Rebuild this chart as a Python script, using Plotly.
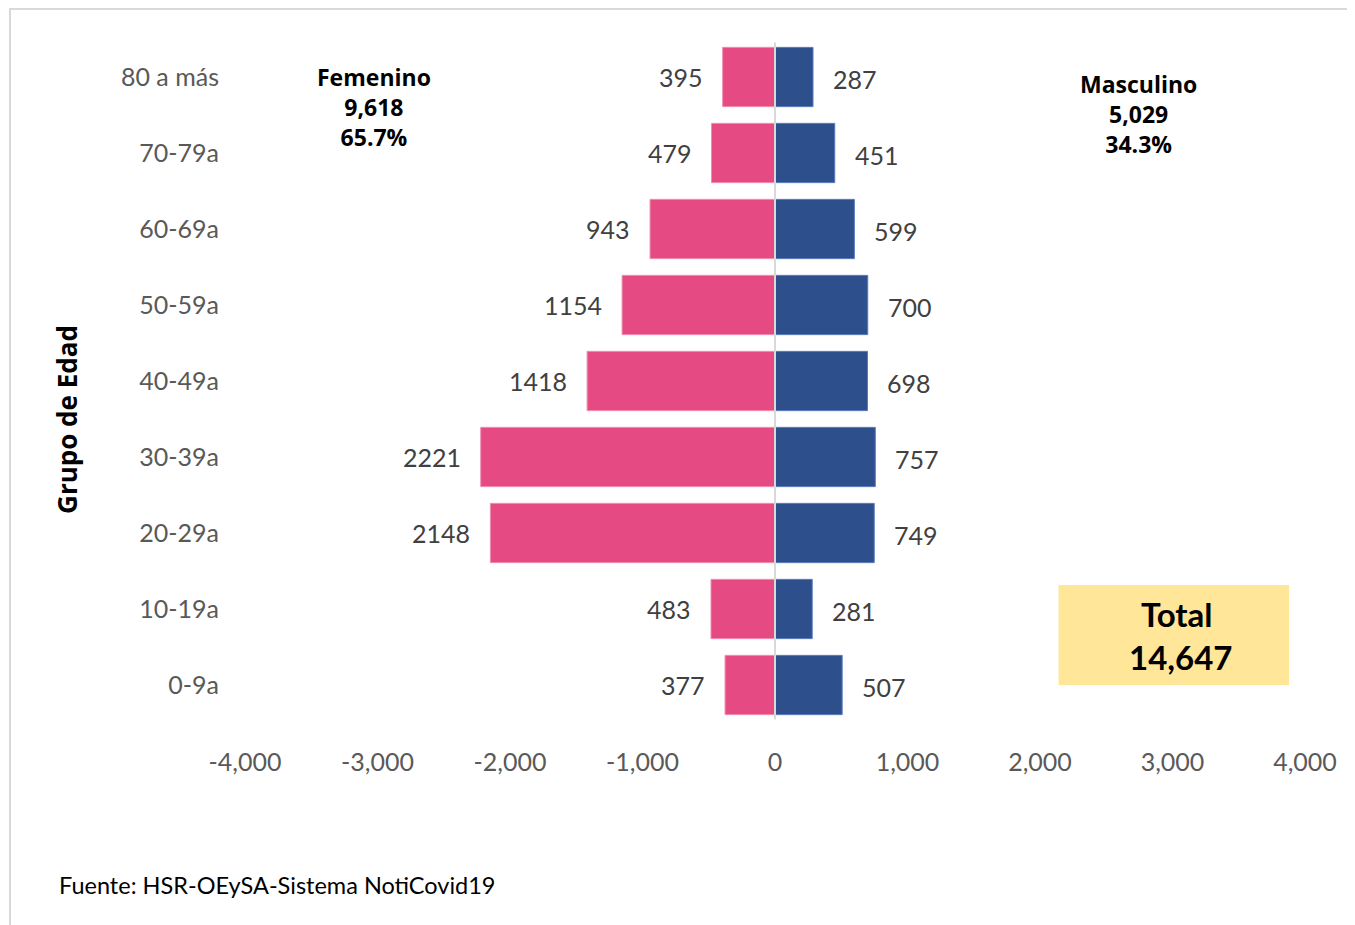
import plotly.graph_objects as go

age_groups = ["0-9a", "10-19a", "20-29a", "30-39a", "40-49a", "50-59a", "60-69a", "70-79a", "80 a más"]
femenino = [377, 483, 2148, 2221, 1418, 1154, 943, 479, 395]
masculino = [507, 281, 749, 757, 698, 700, 599, 451, 287]
x_tickvals = [-4000, -3000, -2000, -1000, 0, 1000, 2000, 3000, 4000]
x_ticktext = ["-4,000", "-3,000", "-2,000", "-1,000", "0", "1,000", "2,000", "3,000", "4,000"]
source_text = "Fuente: HSR-OEySA-Sistema NotiCovid19"

FONT = "Lato"
BOLD_FONT = "Open Sans"
PINK = "#E54A82"
BLUE = "#2D4F8C"

total_f = sum(femenino)
total_m = sum(masculino)
total = total_f + total_m

fig = go.Figure()
fig.add_trace(go.Bar(
    y=age_groups, x=[-v for v in femenino], orientation="h",
    marker=dict(color=PINK, line=dict(color="#F08CB0", width=1)),
    name="Femenino", hoverinfo="skip"))
fig.add_trace(go.Bar(
    y=age_groups, x=masculino, orientation="h",
    marker=dict(color=BLUE, line=dict(color="#5B7DBE", width=1)),
    name="Masculino", hoverinfo="skip"))

annotations = []
for cat, f, m in zip(age_groups, femenino, masculino):
    annotations.append(dict(x=-f, y=cat, xref="x", yref="y", text=str(f),
                            showarrow=False, xanchor="right", xshift=-18,
                            font=dict(family=FONT, size=25, color="#404040")))
    annotations.append(dict(x=m, y=cat, xref="x", yref="y", text=str(m),
                            showarrow=False, xanchor="left", xshift=18, yshift=-2,
                            font=dict(family=FONT, size=25, color="#404040")))

annotations.append(dict(
    x=-3030, y="80 a más", xref="x", yref="y", yshift=-30,
    text=f"<b>Femenino<br>{total_f:,}<br>{total_f/total*100:.1f}%</b>",
    showarrow=False, xanchor="center", yanchor="middle", align="center",
    font=dict(family=BOLD_FONT, size=23, color="black")))
annotations.append(dict(
    x=2740, y="80 a más", xref="x", yref="y", yshift=-37,
    text=f"<b>Masculino<br>{total_m:,}<br>{total_m/total*100:.1f}%</b>",
    showarrow=False, xanchor="center", yanchor="middle", align="center",
    font=dict(family=BOLD_FONT, size=23, color="black")))
annotations.append(dict(
    x=-0.168, y=(723 - 419) / 684, xref="paper", yref="paper", text="<b>Grupo de Edad</b>",
    textangle=-90, showarrow=False, xanchor="center", yanchor="middle",
    font=dict(family=BOLD_FONT, size=26, color="black")))
annotations.append(dict(
    x=3030, y="10-19a", xref="x", yref="y", yshift=-26,
    text=f"<b>Total<br> {total:,}</b>", showarrow=False,
    xanchor="center", yanchor="middle", align="center",
    font=dict(family=FONT, size=33, color="black")))
annotations.append(dict(
    x=-0.177, y=(723 - 885) / 684, xref="paper", yref="paper", text=source_text,
    showarrow=False, xanchor="left", yanchor="middle",
    font=dict(family=FONT, size=23.5, color="black")))

shapes = [
    # Total box
    dict(type="rect", xref="x", yref="paper", x0=2140, x1=3880,
         y0=(723 - 685) / 684, y1=(723 - 585) / 684,
         fillcolor="#FFE699", line=dict(width=0), layer="below"),
    # zero line
    dict(type="line", xref="x", yref="paper", x0=0, x1=0, y0=0.005, y1=0.995,
         line=dict(color="#D9D9D9", width=2), layer="above"),
    # outer frame
    dict(type="rect", xref="paper", yref="paper",
         x0=(10 - 245) / 1060, x1=(1400 - 245) / 1060,
         y0=(723 - 960) / 684, y1=(723 - 9) / 684,
         line=dict(color="#D9D9D9", width=2), fillcolor="rgba(0,0,0,0)"),
]

fig.update_layout(
    width=1347, height=917,
    margin=dict(l=237, r=50, t=31, b=202),
    paper_bgcolor="white", plot_bgcolor="white",
    barmode="overlay", bargap=0.22,
    showlegend=False,
    annotations=annotations, shapes=shapes,
    font=dict(family=FONT, color="#595959"),
)
fig.update_xaxes(range=[-4000, 4000], tickvals=x_tickvals, ticktext=x_ticktext,
                 showgrid=False, zeroline=False, showline=False,
                 tickfont=dict(family=FONT, size=25, color="#595959"),
                 ticklabelstandoff=22, fixedrange=True)
fig.update_yaxes(categoryorder="array", categoryarray=age_groups,
                 showgrid=False, zeroline=False, showline=False,
                 tickfont=dict(family=FONT, size=25, color="#595959"),
                 ticklabelstandoff=25, fixedrange=True)

fig.write_html("out.html", config={"displayModeBar": False})
